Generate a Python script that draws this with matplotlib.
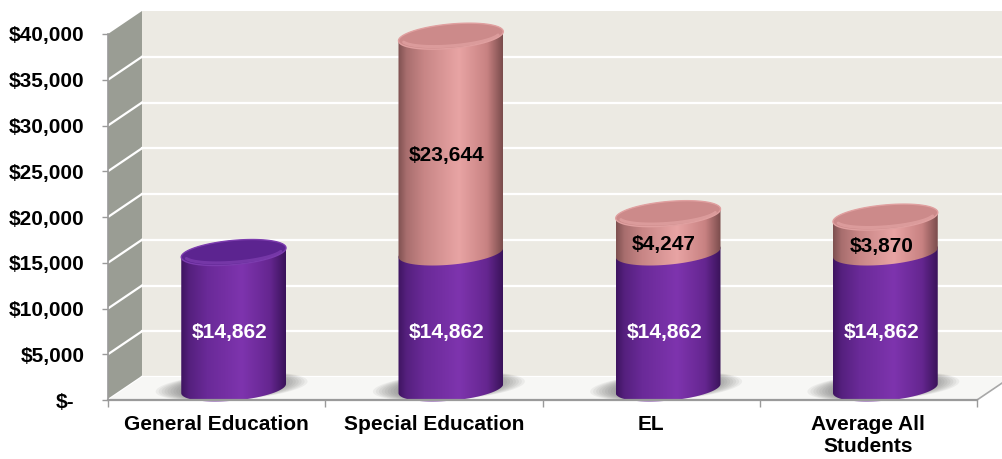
import numpy as np
import matplotlib.pyplot as plt
from matplotlib.patches import Polygon
from matplotlib.colors import LinearSegmentedColormap

# per-pupil cost by program
categories = ["General Education", "Special Education", "EL", "Average All\nStudents"]
base_cost = [14862, 14862, 14862, 14862]
extra_cost = [0, 23644, 4247, 3870]
y_ticks = [0, 5000, 10000, 15000, 20000, 25000, 30000, 35000, 40000]
y_tick_labels = ["$-", "$5,000", "$10,000", "$15,000", "$20,000",
                 "$25,000", "$30,000", "$35,000", "$40,000"]

# figure layout (pixels)
W, H, DPI = 1002, 459, 100
X0, X1 = 108, 977          # front plane, left/right
Y0, Y1 = 400, 34           # front plane, y of 0 and of YMAX (from top)
YMAX = 40000
DEPTH = (34, 23)           # px offset of back wall vs front plane

FONT = "Liberation Sans"

fig = plt.figure(figsize=(W / DPI, H / DPI), dpi=DPI)
ax = fig.add_axes([X0 / W, 1 - Y0 / H, (X1 - X0) / W, (Y0 - Y1) / H])
n = len(categories)
ax.set_xlim(-0.5, n - 0.5)
ax.set_ylim(0, YMAX)
ax.set_autoscale_on(False)

ux = n / (X1 - X0)          # data units per px (x)
uy = YMAX / (Y0 - Y1)       # dollars per px (y)
dx, dy = DEPTH[0] * ux, DEPTH[1] * uy
x_right = (W + 20 - X0) * ux - 0.5

# walls and floor
back = Polygon([(-0.5 + dx, dy), (x_right, dy), (x_right, YMAX + dy), (-0.5 + dx, YMAX + dy)],
               closed=True, fc="#ECEAE3", ec="none", clip_on=False, zorder=0)
side = Polygon([(-0.5, 0), (-0.5 + dx, dy), (-0.5 + dx, YMAX + dy), (-0.5, YMAX)],
               closed=True, fc="#9A9D94", ec="none", clip_on=False, zorder=0)
floor = Polygon([(-0.5, 0), (n - 0.5, 0), (n - 0.5 + dx, dy), (-0.5 + dx, dy)],
                closed=True, fc="#F7F7F5", ec="none", clip_on=False, zorder=0.5)
for p in (back, side, floor):
    ax.add_patch(p)
ax.plot([n - 0.5, n - 0.5 + dx], [0, dy], color="#A8A8A8", lw=1.2, clip_on=False, zorder=0.6)

for t in y_ticks[:-1]:
    ax.plot([-0.5 + dx, x_right], [t + dy, t + dy], color="white", lw=1.6,
            clip_on=False, zorder=0.2)
    ax.plot([-0.5, -0.5 + dx], [t, t + dy], color="white", lw=1.6,
            clip_on=False, zorder=0.2)

# cylinder geometry
A = 49 * ux                 # half width along x
BX = 18.5 * ux              # depth half axis, x part
BY = 13 * uy                # depth half axis, y part
R = np.hypot(A, BX)
t_tan = np.arctan2(BX, A)

purple_cmap = LinearSegmentedColormap.from_list(
    "purple", [(0, "#3E1460"), (0.08, "#55207E"), (0.25, "#6A2A98"),
               (0.58, "#7E34AE"), (0.85, "#652690"), (1, "#3A135A")])
pink_cmap = LinearSegmentedColormap.from_list(
    "pink", [(0, "#7E5050"), (0.08, "#A86E6E"), (0.25, "#C88686"),
             (0.58, "#E8A4A4"), (0.85, "#C88282"), (1, "#7A4C4C")])


def ell(cx, cy, t):
    return cx + A * np.cos(t) + BX * np.sin(t), cy + BY * np.sin(t)


def draw_segment(cx, lo, hi, cmap, top_fc, rim_fc, with_top, z):
    tf = np.linspace(t_tan + np.pi, t_tan + 2 * np.pi, 80)
    tb = np.linspace(t_tan, t_tan + np.pi, 80)
    bx, by = ell(cx, lo + dy / 2, tf)
    tx, ty = ell(cx, hi + dy / 2, tb)
    body = Polygon(np.column_stack([np.r_[bx, tx], np.r_[by, ty]]), closed=True,
                   fc="none", ec="none", zorder=z, clip_on=False)
    ax.add_patch(body)
    grad = np.linspace(0, 1, 256)[None, :]
    im = ax.imshow(grad, cmap=cmap, aspect="auto", interpolation="bilinear",
                   extent=[cx - R, cx + R, lo + dy / 2 - BY, hi + dy / 2 + BY],
                   zorder=z)
    im.set_clip_box(fig.bbox)
    im.set_clip_path(body)
    if with_top:
        ta = np.linspace(0, 2 * np.pi, 160)
        ex, ey = ell(cx, hi + dy / 2, ta)
        ax.add_patch(Polygon(np.column_stack([ex, ey]), closed=True, clip_on=False,
                             fc=top_fc, ec=rim_fc, lw=1.0, zorder=z + 0.1))
        # light rim along the front edge of the top face
        tr = np.linspace(t_tan + np.pi + 0.25, t_tan + 2 * np.pi - 0.25, 80)
        rx = cx + 0.93 * (A * np.cos(tr) + BX * np.sin(tr))
        ry = hi + dy / 2 + 0.80 * BY * np.sin(tr)
        ax.plot(rx, ry, color=rim_fc, lw=2.2, alpha=0.8, solid_capstyle="round",
                clip_on=False, zorder=z + 0.2)


def draw_shadow(cx):
    ta = np.linspace(0, 2 * np.pi, 120)
    for s in np.linspace(1.45, 1.0, 9):
        ex = cx - 2 * ux + s * (A * np.cos(ta) + BX * np.sin(ta))
        ey = dy / 2 + 2 * uy + (0.75 + 0.25 * s) * BY * np.sin(ta)
        ax.add_patch(Polygon(np.column_stack([ex, ey]), closed=True, fc="#505050",
                             ec="none", alpha=0.07, zorder=0.7, clip_on=False))


for i in range(n):
    cx = i + dx / 2
    draw_shadow(cx)
    has_extra = extra_cost[i] > 0
    draw_segment(cx, 0, base_cost[i], purple_cmap, "#5C2490", "#7C3CAE",
                 not has_extra, 2)
    if has_extra:
        top = base_cost[i] + extra_cost[i]
        draw_segment(cx, base_cost[i], top, pink_cmap, "#CC8A8A", "#E0A0A0", True, 3)

    lx = cx - 4 * ux
    ax.text(lx, base_cost[i] / 2, "${:,}".format(base_cost[i]), color="white",
            ha="center", va="center", fontsize=15, fontweight="bold",
            family=FONT, zorder=5)
    if has_extra:
        ax.text(lx, base_cost[i] + extra_cost[i] / 2, "${:,}".format(extra_cost[i]),
                color="black", ha="center", va="center", fontsize=15,
                fontweight="bold", family=FONT, zorder=5)

# axes styling
for side_name in ("top", "right"):
    ax.spines[side_name].set_visible(False)
ax.spines["left"].set_color("#9A9A9A")
ax.spines["bottom"].set_color("#9A9A9A")
ax.spines["left"].set_linewidth(1.2)
ax.spines["bottom"].set_linewidth(1.6)
ax.spines["left"].set_zorder(6)
ax.spines["bottom"].set_zorder(6)
ax.patch.set_visible(False)

ax.set_yticks(y_ticks)
ax.set_yticklabels(y_tick_labels)
ax.tick_params(axis="y", length=4, width=1, color="#9A9A9A", pad=13)
ax.set_xticks(range(n))
ax.set_xticklabels(categories, linespacing=1.15)
ax.set_xticks(np.arange(-0.5, n, 1.0), minor=True)
ax.tick_params(axis="x", which="major", length=0, pad=11)
ax.tick_params(axis="x", which="minor", length=5, width=1, color="#9A9A9A")
for lbl in ax.get_yticklabels():
    lbl.set_fontfamily(FONT)
    lbl.set_fontweight("bold")
    lbl.set_fontsize(15)
for lbl in ax.get_xticklabels():
    lbl.set_fontfamily(FONT)
    lbl.set_fontweight("bold")
    lbl.set_fontsize(15)
ax.get_yticklabels()[0].set_x(-0.012)

fig.savefig("out.png", dpi=DPI, facecolor="white")
